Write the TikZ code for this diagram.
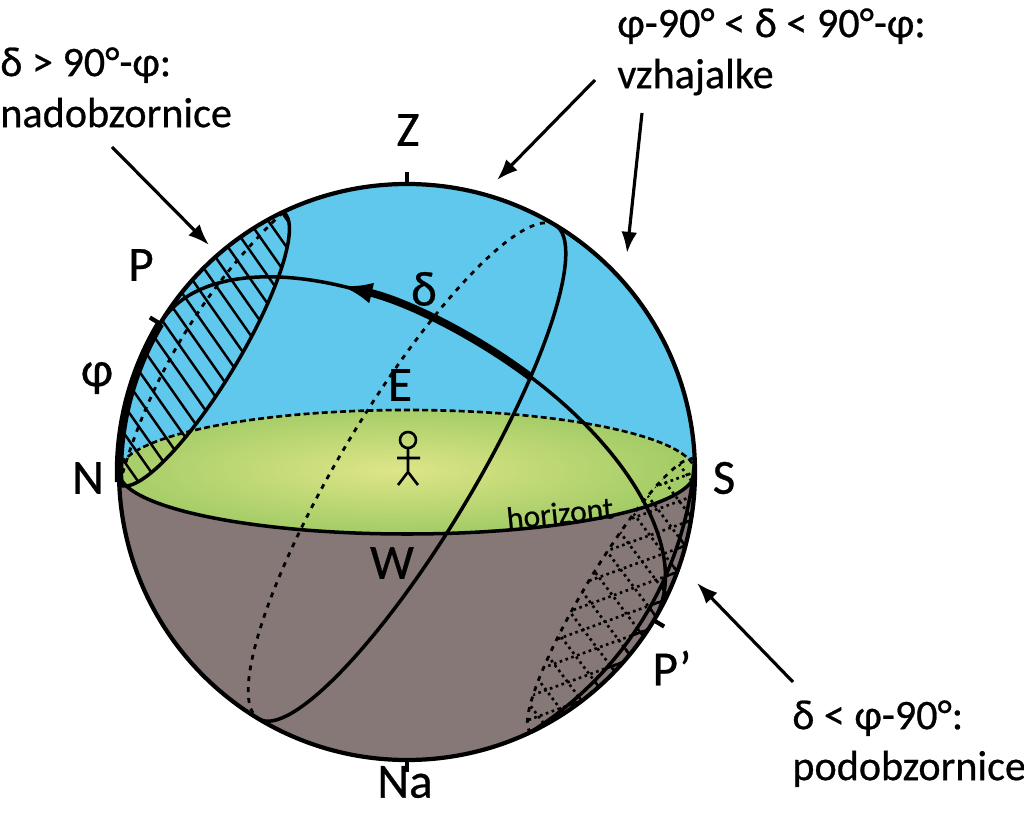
\documentclass[tikz,border=0pt]{standalone}
\usepackage{fontspec}
\setmainfont{Carlito}[FakeBold=0.6]
\usetikzlibrary{arrows.meta,positioning}
\definecolor{skyblue}{RGB}{96,200,236}
\definecolor{groundgray}{RGB}{133,120,119}
\definecolor{horgreen}{RGB}{100,178,66}
\definecolor{horlight}{RGB}{222,229,136}
\tikzset{%
	sphere/.style   = {line width=2.4pt}, % outline of the sphere
	orbit/.style    = {line width=2pt}, % visible circles
	hidden/.style   = {line width=1.6pt, dash pattern=on 2.8pt off 3.4pt}, % circles behind
	backhor/.style  = {line width=1.5pt, dash pattern=on 3.4pt off 1.8pt}, % horizon behind
	hatch/.style    = {line width=1.4pt},
	dothatch/.style = {line width=1.5pt, dash pattern=on 1.5pt off 2pt},
	tick/.style     = {line width=2.4pt},
	lbl/.style      = {font=\fontsize{28}{30}\selectfont, inner sep=0pt},
	note/.style     = {font=\fontsize{24}{29}\selectfont, align=left, inner sep=0pt},
	pointer/.style  = {line width=1.8pt, -{Latex[length=12pt,width=9pt]}},
}
\begin{document}
\begin{tikzpicture}[x=0.02cm, y=0.02cm]
	\useasboundingbox (-407,-340) rectangle (617,472);
	% points on the sphere
	\coordinate (O) at (0,0);
	\coordinate (N) at (180:288);
	\coordinate (S) at (0:288);
	\coordinate (Z) at (90:288);
	\coordinate (Na) at (270:288);
	\coordinate (P) at (149:288);
	\coordinate (Pp) at (329:288);

	% sky, ground and horizon plane
	\fill[skyblue] (N) arc[start angle=180, end angle=0, radius=288]
		arc[start angle=0, end angle=-180, x radius=288, y radius=62] -- cycle;
	\fill[groundgray] (N) arc[start angle=180, end angle=360, radius=288]
		arc[start angle=0, end angle=-180, x radius=288, y radius=62] -- cycle;
	\begin{scope}
		\clip (O) ellipse[x radius=288, y radius=62];
		\shade[inner color=horlight, outer color=horgreen] (-12,2) ellipse[x radius=600, y radius=130];
	\end{scope}

	% circumpolar caps, turned so that the pole lies on the y axis
	\begin{scope}[rotate=59]
		\begin{scope}
			\clip (159,240) arc[start angle=0, end angle=-180, x radius=159, y radius=38]
				arc[start angle=123.5, end angle=56.5, radius=288] -- cycle;
			\foreach \k in {-13,...,13}
				\draw[hatch, shift={(0,240)}, rotate=-24] (\k*16,-220) -- (\k*16,220);
		\end{scope}
		\begin{scope}
			\clip (159,-240) arc[start angle=0, end angle=180, x radius=159, y radius=28]
				arc[start angle=236.5, end angle=303.5, radius=288] -- cycle;
			\foreach \k in {-10,...,10} {
				\draw[dothatch, shift={(0,-240)}, rotate=-129] (\k*22,-220) -- (\k*22,220);
				\draw[dothatch, shift={(0,-240)}, rotate=-22] (\k*22,-220) -- (\k*22,220);
			}
		\end{scope}
		\begin{scope}
			\clip (159,-240) arc[start angle=-63.1, end angle=-116.9, radius=351.6]
				arc[start angle=236.5, end angle=303.5, radius=288] -- cycle;
			\foreach \k in {-10,...,10} {
				\draw[hatch, shift={(0,-240)}, rotate=-129] (\k*22,-220) -- (\k*22,220);
				\draw[hatch, shift={(0,-240)}, rotate=-22] (\k*22,-220) -- (\k*22,220);
			}
		\end{scope}
	\end{scope}

	% horizon
	\draw[backhor] (S) arc[start angle=0, end angle=180, x radius=288, y radius=62];
	\draw[orbit] (S) arc[start angle=0, end angle=-180, x radius=288, y radius=62];

	\begin{scope}[rotate=59]
		% celestial equator
		\draw[hidden] (288,0) arc[start angle=0, end angle=180, x radius=288, y radius=66];
		\draw[orbit] (288,0) arc[start angle=0, end angle=-180, x radius=288, y radius=66];
		% hour circle of the star
		\draw[orbit] (Pp) arc[start angle=-90, end angle=90, x radius=148, y radius=288];
		\draw[line width=4.4pt, -{Latex[length=18pt,width=12pt]}]
			({148*cos(-11.4)},{288*sin(-11.4)}) arc[start angle=-11.4, end angle=32, x radius=148, y radius=288];
		% limits of the circumpolar stars
		\draw[orbit] (159,240) arc[start angle=0, end angle=-180, x radius=159, y radius=38];
		\draw[hidden] (159,240) arc[start angle=74.25, end angle=105.75, radius=585.6];
		\draw[hidden] (159,-240) arc[start angle=0, end angle=180, x radius=159, y radius=28];
		\draw[orbit] (159,-240) arc[start angle=-63.1, end angle=-116.9, radius=351.6];
	\end{scope}

	% sphere, latitude and marks
	\draw[sphere] (O) circle[radius=288];
	\draw[line width=4.8pt] (182:288) arc[start angle=182, end angle=149, radius=288];
	\draw[tick] (Z) -- (90:300);
	\draw[tick] (Na) -- (270:300);
	\draw[tick] (P) -- (149:300);
	\draw[tick] (Pp) -- (329:300);

	% observer
	\draw[line width=1.5pt] (1,32) circle[radius=8] (1,24) -- (1,0) -- (-9,-13) (1,0) -- (11,-13) (-10,14) -- (13,14);

	% labels
	\node[lbl] (Zlbl) at (1,342) {Z};
	\node[lbl] (Nalbl) at (-2,-310) {Na};
	\node[lbl] (Nlbl) at (-319,-6) {N};
	\node[lbl] (Slbl) at (317,-6) {S};
	\node[lbl] (Plbl) at (-266,207) {P};
	\node[lbl] (Pplbl) at (265,-196) {P’};
	\node[lbl] (Elbl) at (-7,87) {E};
	\node[lbl] (Wlbl) at (-15,-91) {W};
	\node[lbl] (dlbl) at (17,183) {δ};
	\node[lbl] (philbl) at (-310,94) {φ};
	\node[font=\fontsize{18}{18}\selectfont, inner sep=0pt, rotate=6] (horlbl) at (153,-41) {horizont};

	% notes
	\node[note, anchor=north west] (nadtxt) at (-407,425) {δ > 90°-φ:\\nadobzornice};
	\node[note, anchor=north west] (vzhtxt) at (210,464) {φ-90° < δ < 90°-φ:\\vzhajalke};
	\node[note, anchor=north west] (podtxt) at (385,-228) {δ < φ-90°:\\podobzornice};
	\coordinate (nadtail) at (-295,325);
	\coordinate (nadtip) at (-198,227);
	\coordinate (vzhtailA) at (188,392);
	\coordinate (vzhtipA) at (90,292);
	\coordinate (vzhtailB) at (235,359);
	\coordinate (vzhtipB) at (220,219);
	\coordinate (podtail) at (386,-210);
	\coordinate (podtip) at (290,-111);
	\draw[pointer] (nadtail) -- (nadtip);
	\draw[pointer] (vzhtailA) -- (vzhtipA);
	\draw[pointer] (vzhtailB) -- (vzhtipB);
	\draw[pointer] (podtail) -- (podtip);
\end{tikzpicture}
\end{document}
